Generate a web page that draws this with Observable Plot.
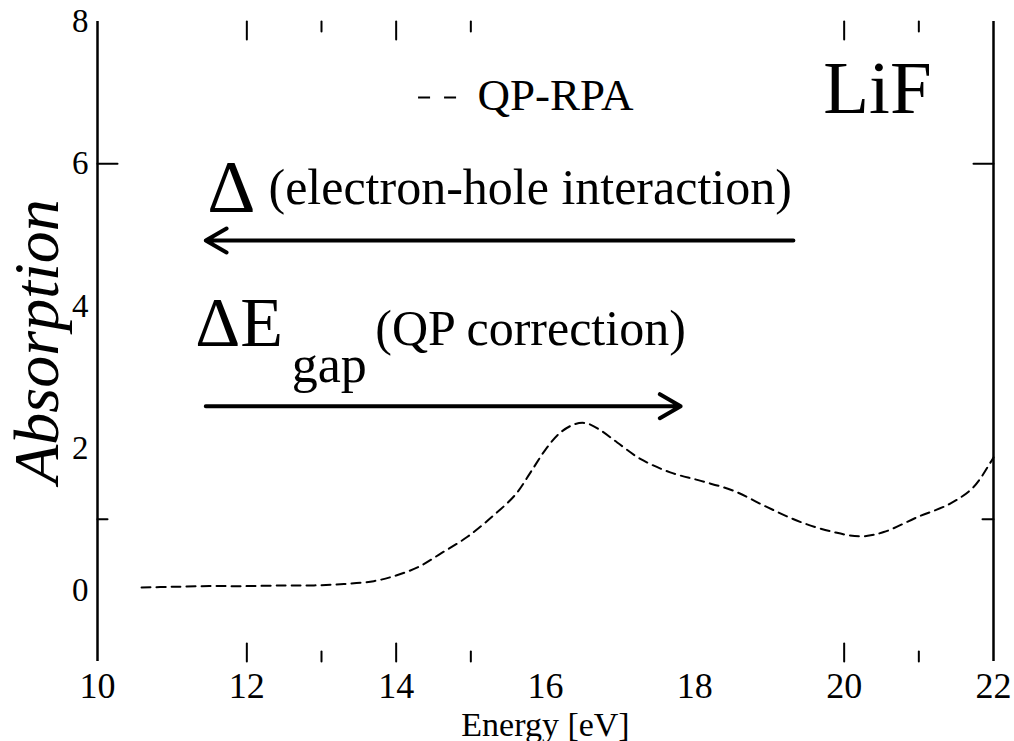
<!DOCTYPE html>
<html><head><meta charset="utf-8">
<script src="https://cdn.jsdelivr.net/npm/d3@7"></script>
<script src="https://cdn.jsdelivr.net/npm/@observablehq/plot@0.6"></script>
<style>body{margin:0;background:#fff;} #chart svg{display:block;}</style>
</head><body><div id="chart"></div>
<script>
// QP-RPA absorption spectrum of LiF
const energy = [10.59, 11.0, 11.5, 12.0, 12.5, 12.9, 13.3, 13.7, 14.0, 14.3, 14.6, 14.95, 15.3, 15.6, 15.8, 16.0, 16.2, 16.4, 16.55, 16.74, 16.96, 17.27, 17.67, 18.08, 18.52, 18.97, 19.42, 19.86, 20.22, 20.53, 20.98, 21.42, 21.73, 21.96, 22.0];
const absorption = [0.04, 0.05, 0.06, 0.06, 0.07, 0.07, 0.09, 0.13, 0.21, 0.33, 0.52, 0.75, 1.05, 1.35, 1.66, 1.98, 2.22, 2.34, 2.35, 2.25, 2.08, 1.85, 1.66, 1.54, 1.40, 1.17, 0.96, 0.82, 0.76, 0.82, 1.03, 1.22, 1.45, 1.80, 1.87];

const xDomain = [10, 22];
const yDomain = [-1, 8];
const xLabelTicks = [10, 12, 14, 16, 18, 20, 22];
const yLabelTicks = [0, 2, 4, 6, 8];
const xMajorTicks = [12, 14, 20];
const xMinorTicks = [13, 15, 21];
const yMajorTicks = [6];
const yMinorTicks = [1];

const seriesName = "QP-RPA";
const legendLineX = [14.30, 14.82];
const legendY = 6.93;
const legendTextPos = [15.09, 6.75];

// annotation texts and their anchor points (data units)
const noteTexts = ["Δ", "(electron-hole interaction)", "ΔE", "gap", "(QP correction)", "LiF"];
const noteX = [11.47, 12.29, 11.31, 12.60, 13.72, 19.72];
const noteY = [5.315, 5.44, 3.43, 2.925, 3.445, 6.72];
const noteSize = [75, 50, 70, 52, 50, 75];

// arrows: Δ (electron-hole) to the left, ΔEgap (QP correction) to the right
const arrowX1 = [19.32, 11.45];
const arrowX2 = [11.45, 17.81];
const arrowY = [4.92, 2.59];

const xLabel = "Energy [eV]";
const yLabel = "Absorption";

const serif = "'Liberation Serif', 'Times New Roman', serif";
const curveData = energy.map((x, i) => ({x, y: absorption[i]}));
const notes = noteTexts.map((t, i) => ({t, x: noteX[i], y: noteY[i], s: noteSize[i]}));
const arrows = arrowX1.map((x1, i) => ({x1, x2: arrowX2[i], y: arrowY[i]}));

const tickShape = {draw(context, l) { context.moveTo(0, 0); context.lineTo(0, -l); }};
const tickOpts = {shape: tickShape, anchor: "start", stroke: "black", strokeWidth: 2};

const chart = Plot.plot({
  width: 1014,
  height: 741,
  marginLeft: 97,
  marginRight: 21,
  marginTop: 21,
  marginBottom: 80,
  style: {fontFamily: serif, background: "white", color: "black"},
  x: {domain: xDomain},
  y: {domain: yDomain},
  marks: [
    Plot.ruleX(xDomain, {stroke: "black", strokeWidth: 2.5}),
    // ticks (inward)
    Plot.vector(xMajorTicks, {x: d => d, y: yDomain[0], length: 18, rotate: 0, ...tickOpts}),
    Plot.vector(xMinorTicks, {x: d => d, y: yDomain[0], length: 10, rotate: 0, ...tickOpts}),
    Plot.vector(xMajorTicks, {x: d => d, y: yDomain[1], length: 18, rotate: 180, ...tickOpts}),
    Plot.vector(xMinorTicks, {x: d => d, y: yDomain[1], length: 10, rotate: 180, ...tickOpts}),
    Plot.vector(yMajorTicks, {y: d => d, x: xDomain[0], length: 20, rotate: 90, ...tickOpts}),
    Plot.vector(yMinorTicks, {y: d => d, x: xDomain[0], length: 10, rotate: 90, ...tickOpts}),
    Plot.vector(yMajorTicks, {y: d => d, x: xDomain[1], length: 20, rotate: -90, ...tickOpts}),
    Plot.vector(yMinorTicks, {y: d => d, x: xDomain[1], length: 11, rotate: -90, ...tickOpts}),
    // tick labels
    Plot.axisX({anchor: "bottom", ticks: xLabelTicks, tickSize: 0, tickPadding: 11, fontSize: 36, fontFamily: serif, label: null}),
    Plot.axisY({anchor: "left", ticks: yLabelTicks, tickSize: 0, tickPadding: 9, fontSize: 33, fontFamily: serif, label: null}),
    // axis titles
    Plot.text([xLabel], {text: d => d, frameAnchor: "bottom", dy: 74, lineAnchor: "bottom", fontSize: 34, fontFamily: serif, fill: "black"}),
    Plot.text([yLabel], {text: d => d, frameAnchor: "left", dx: -40, rotate: -90, textAnchor: "middle", lineAnchor: "bottom", fontSize: 64, fontStyle: "italic", fontFamily: serif, fill: "black"}),
    // data curve
    Plot.line(curveData, {x: "x", y: "y", curve: "catmull-rom", stroke: "black", strokeWidth: 2, strokeDasharray: "9,6"}),
    // legend
    Plot.ruleY([legendY], {x1: legendLineX[0], x2: legendLineX[1], stroke: "black", strokeWidth: 2, strokeDasharray: "12,14"}),
    Plot.text([seriesName], {text: d => d, x: legendTextPos[0], y: legendTextPos[1], textAnchor: "start", lineAnchor: "bottom", fontSize: 45, fontFamily: serif, fill: "black"}),
    // annotations
    Plot.text(notes, {text: "t", x: "x", y: "y", fontSize: d => d.s, textAnchor: "start", lineAnchor: "bottom", fontFamily: serif, fill: "black"}),
    Plot.arrow(arrows, {x1: "x1", x2: "x2", y1: "y", y2: "y", stroke: "black", strokeWidth: 4, headLength: 9, headAngle: 60})
  ]
});
document.getElementById("chart").appendChild(chart);
</script>
</body></html>
